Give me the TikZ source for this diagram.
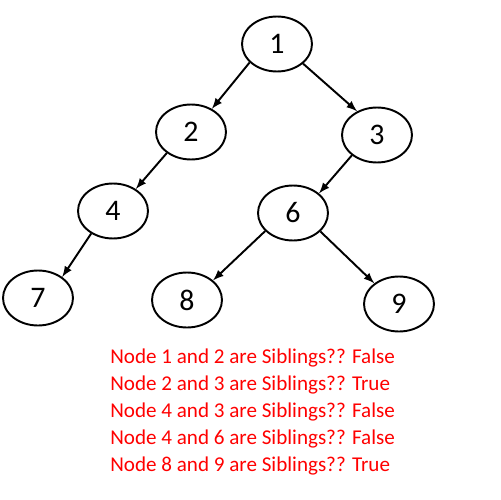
\documentclass[tikz,border=0pt]{standalone}
\usepackage{fontspec}
\setmainfont{Carlito}
\usepackage{xcolor}
\usetikzlibrary{shapes.geometric}

\begin{document}
\begin{tikzpicture}
[x=0.02cm, y=-0.02cm,
 TreeNode/.style={ellipse,
    draw=black, fill=white, line width=1.1pt,
    minimum width=1.4cm, minimum height=1.1cm,
    inner sep=0pt, font=\fontsize{17}{20}\selectfont},
 TreeEdge/.style={->, >=latex, line width=1.1pt}]
\useasboundingbox (0,0) rectangle (500,500);
\foreach \n/\x/\y in {1/277/44, 2/191/132, 3/377/135, 4/113/211,
                      6/293/213, 7/38/298, 8/187/300, 9/399/304}
    \node[TreeNode] (n\n) at (\x, \y){\n};
\foreach \a/\b/\s/\e in {1/2/214/48, 1/3/323/130, 2/4/221/44, 3/6/219/37,
                         4/7/226/41, 6/8/213/37, 6/9/326/140}
    \draw[TreeEdge] (n\a.\s) -- (n\b.\e);
\node[anchor=north west, align=left, inner sep=0pt, text=red,
      font=\fontsize{12}{15.3}\selectfont] (question) at (110, 349)
    {Node 1 and 2 are Siblings?? False\\
     Node 2 and 3 are Siblings?? True\\
     Node 4 and 3 are Siblings?? False\\
     Node 4 and 6 are Siblings?? False\\
     Node 8 and 9 are Siblings?? True};
\end{tikzpicture}
\end{document}
